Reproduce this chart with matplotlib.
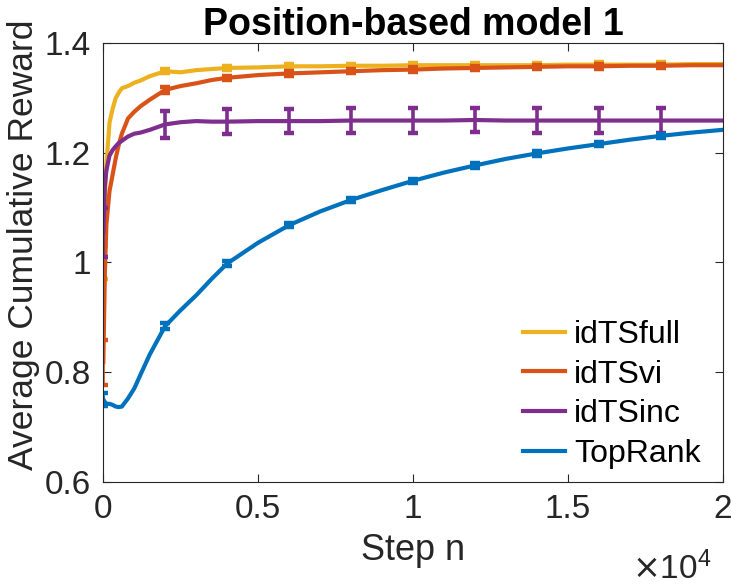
import numpy as np
import matplotlib
matplotlib.use('Agg')
import matplotlib.pyplot as plt
from matplotlib.ticker import FuncFormatter

plt.rcParams['font.family'] = ['Liberation Sans', 'DejaVu Sans']

steps = [1, 50, 100, 200, 300, 400, 500, 600, 800, 1000, 1200, 1500, 2000, 2500, 3000,
         3500, 4000, 5000, 6000, 7000, 8000, 9000, 10000, 11000, 12000, 13000, 14000,
         15000, 16000, 17000, 18000, 19000, 20000]

idts_full = [1.000, 1.120, 1.180, 1.255, 1.280, 1.300, 1.310, 1.318, 1.322, 1.328, 1.332,
             1.340, 1.349, 1.347, 1.351, 1.353, 1.355, 1.356, 1.358, 1.358, 1.359, 1.359,
             1.360, 1.360, 1.360, 1.360, 1.360, 1.361, 1.361, 1.361, 1.361, 1.362, 1.362]
idts_vi = [0.818, 0.980, 1.070, 1.130, 1.160, 1.190, 1.215, 1.235, 1.263, 1.275, 1.285,
           1.297, 1.315, 1.322, 1.327, 1.333, 1.337, 1.342, 1.345, 1.347, 1.349, 1.351,
           1.352, 1.354, 1.355, 1.356, 1.357, 1.358, 1.358, 1.359, 1.359, 1.360, 1.360]
idts_inc = [1.055, 1.140, 1.168, 1.195, 1.205, 1.212, 1.218, 1.222, 1.230, 1.235, 1.237,
            1.242, 1.252, 1.256, 1.258, 1.257, 1.257, 1.258, 1.258, 1.258, 1.259, 1.259,
            1.259, 1.259, 1.260, 1.259, 1.259, 1.259, 1.259, 1.259, 1.259, 1.259, 1.259]
toprank = [0.750, 0.745, 0.742, 0.742, 0.740, 0.737, 0.736, 0.737, 0.752, 0.770, 0.795,
           0.832, 0.884, 0.913, 0.940, 0.970, 0.998, 1.036, 1.068, 1.093, 1.114, 1.132,
           1.149, 1.164, 1.177, 1.189, 1.199, 1.208, 1.216, 1.224, 1.231, 1.237, 1.242]

# error bar positions and half-widths
err_steps = [1, 2000, 4000, 6000, 8000, 10000, 12000, 14000, 16000, 18000]
err_full = [0.030, 0.004, 0.004, 0.004, 0.004, 0.004, 0.004, 0.004, 0.004, 0.004]
err_vi = [0.041, 0.005, 0.004, 0.004, 0.004, 0.004, 0.004, 0.004, 0.004, 0.004]
err_inc = [0.045, 0.024, 0.023, 0.022, 0.022, 0.022, 0.022, 0.022, 0.022, 0.022]
err_top = [0.012, 0.005, 0.005, 0.004, 0.004, 0.004, 0.004, 0.004, 0.004, 0.004]

names = ['idTSfull', 'idTSvi', 'idTSinc', 'TopRank']
colors = ['#EDB120', '#D95319', '#7E2F8E', '#0072BD']

W, H = 731, 585
fig = plt.figure(figsize=(W / 100, H / 100), dpi=100)
ax = fig.add_axes([103.3 / W, 1 - 481.6 / H, (722.5 - 103.3) / W, (481.6 - 43.3) / H])

steps_a = np.array(steps)
mask = np.isin(steps_a, err_steps)
for name, vals, errs, c in zip(names, [idts_full, idts_vi, idts_inc, toprank],
                               [err_full, err_vi, err_inc, err_top], colors):
    vals = np.array(vals)
    ax.plot(steps_a, vals, color=c, lw=3.0, label=name)
    ax.errorbar(steps_a[mask], vals[mask], yerr=errs, fmt='none', ecolor=c,
                elinewidth=2.6, capsize=3.3, capthick=3.2)

ax.set_xlim(0, 20000)
ax.set_ylim(0.6, 1.4)
ax.set_xticks([0, 5000, 10000, 15000, 20000])
ax.set_yticks([0.6, 0.8, 1.0, 1.2, 1.4])
ax.xaxis.set_major_formatter(FuncFormatter(lambda v, p: f'{v / 1e4:g}'))
ax.yaxis.set_major_formatter(FuncFormatter(lambda v, p: f'{v:g}'))

dark = '#262626'
ax.tick_params(direction='in', length=6, width=0.8, colors=dark, top=True, right=True,
               labelsize=24, pad=9)
for s in ax.spines.values():
    s.set_color(dark)
    s.set_linewidth(0.8)

ax.set_xlabel('Step n', fontsize=26, color=dark, labelpad=6)
ax.set_ylabel('Average Cumulative Reward', fontsize=25.5, color=dark)
ax.yaxis.set_label_coords(-0.103, 0.54)
ax.set_title('Position-based model 1', fontsize=27, fontweight='bold', pad=6)
fig.text(712 / W, 1 - 579 / H, r'$\times\mathregular{10^4}$', fontsize=24, color=dark,
         ha='right', va='baseline')

ax.legend(loc='lower right', bbox_to_anchor=(1 - 9 / 619.2, 0.0), frameon=False,
          fontsize=23, handlelength=1.3, handletextpad=0.3, labelspacing=0.3,
          borderaxespad=0.0)

fig.savefig('out.png', dpi=100)
